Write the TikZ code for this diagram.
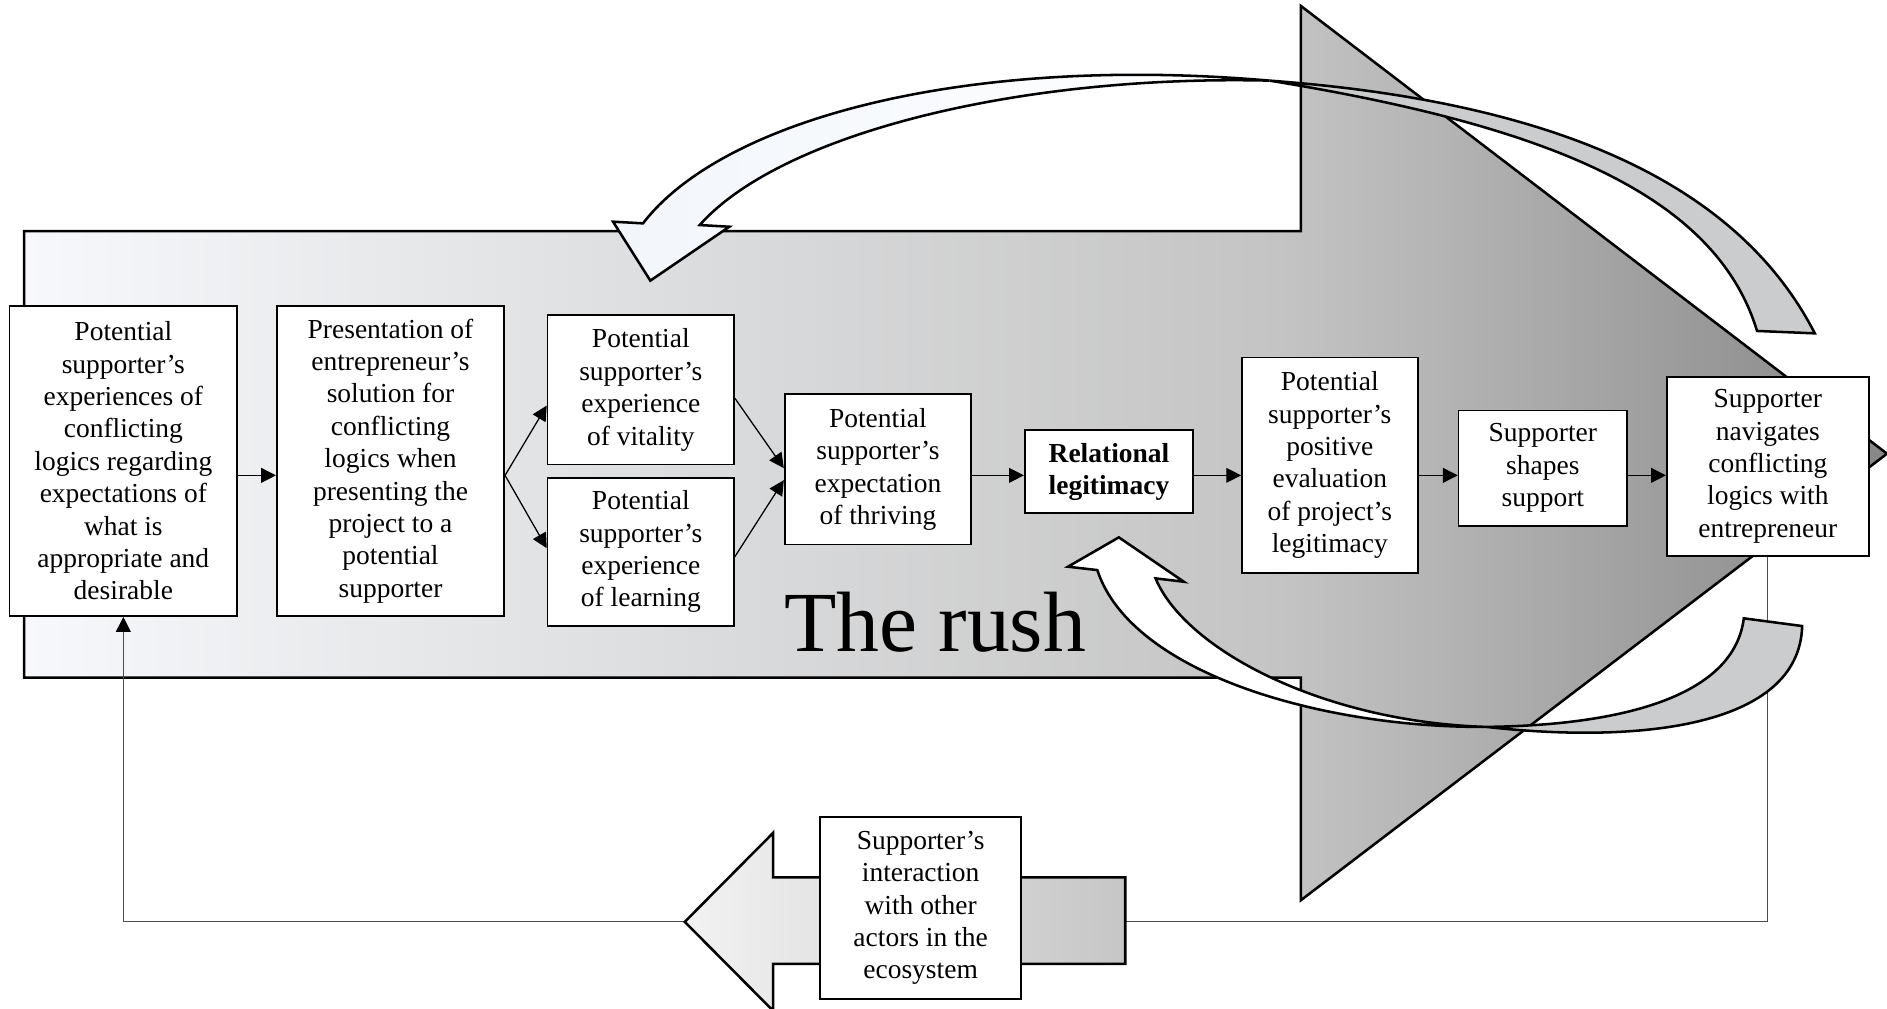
\documentclass[tikz,border=0pt]{standalone}
\usepackage{fontspec}
\setmainfont{Liberation Serif}
\usepackage{xcolor}
\usepackage{tikz}
\usetikzlibrary{arrows.meta}

\definecolor{rushA}{HTML}{F6F8FB}
\definecolor{rushB}{HTML}{C4C4C4}
\definecolor{rushC}{HTML}{878787}
\definecolor{frontA}{HTML}{F2F6FB}
\definecolor{bandgray}{HTML}{CBCCCD}
\definecolor{blockA}{HTML}{F2F2F2}
\definecolor{blockB}{HTML}{C6C6C6}
\pgfdeclarehorizontalshading{rushfade}{100bp}{color(0bp)=(rushA); color(25bp)=(rushA); color(58.7bp)=(rushB); color(75bp)=(rushC); color(100bp)=(rushC)}

\begin{document}
\begin{tikzpicture}[x=0.02cm, y=-0.02cm,
    box/.style={draw, fill=white, line width=0.8pt, align=center, inner sep=0pt, font=\fontsize{13}{15.3}\selectfont},
    flow/.style={-{Triangle[length=7pt,width=7pt]}, line width=0.6pt},
    loopline/.style={-{Triangle[length=7pt,width=7pt,color=black]}, line width=0.5pt, black!70},
    bigshape/.style={draw, line width=1.2pt, line join=miter}]
    \useasboundingbox (0,0) rectangle (1568,838);
    \shadedraw[bigshape, shading=rushfade] (20,192) -- (1081,192) -- (1081,5) -- (1568,377) -- (1081,748) -- (1081,563) -- (20,563) -- cycle;
    \node[anchor=base, font=\fontsize{40.5}{44}\selectfont] (rush) at (777,541.5) {The rush};
    \coordinate (mainline) at (0,395);
    \node[box, minimum width=3.78cm, minimum height=5.16cm] (pconf) at (102.5,383) {Potential\\supporter’s\\experiences of\\conflicting\\logics regarding\\expectations of\\what is\\appropriate and\\desirable};
    \node[box, minimum width=3.78cm, minimum height=5.16cm] (pres) at (324.5,383) {Presentation of\\entrepreneur’s\\solution for\\conflicting\\logics when\\presenting the\\project to a\\potential\\supporter};
    \node[box, minimum width=3.10cm, minimum height=2.48cm] (vital) at (532.5,324) {Potential\\supporter’s\\experience\\of vitality};
    \node[box, minimum width=3.10cm, minimum height=2.46cm] (learn) at (532.5,458.5) {Potential\\supporter’s\\experience\\of learning};
    \node[box, minimum width=3.10cm, minimum height=2.50cm] (thrive) at (729.5,390) {Potential\\supporter’s\\expectation\\of thriving};
    \node[box, minimum width=2.80cm, minimum height=1.38cm, font=\fontsize{13}{15.3}\selectfont\bfseries] (relat) at (921.5,392) {Relational\\legitimacy};
    \node[box, minimum width=2.92cm, minimum height=3.58cm] (evalN) at (1105,386.5) {Potential\\supporter’s\\positive\\evaluation\\of project’s\\legitimacy};
    \node[box, minimum width=2.80cm, minimum height=1.92cm] (shapes) at (1282,389) {Supporter\\shapes\\support};
    \node[box, minimum width=3.36cm, minimum height=2.98cm] (navig) at (1469,387.5) {Supporter\\navigates\\conflicting\\logics with\\entrepreneur};
    \draw[flow] (pconf.east |- mainline) -- (pres.west |- mainline);
    \draw[flow] (pres.east |- mainline) -- ([yshift=-2.6mm]vital.west);
    \draw[flow] (pres.east |- mainline) -- ([yshift=0.6mm]learn.west);
    \draw[flow] ([yshift=-1.4mm]vital.east) -- ([yshift=0.2mm]thrive.west);
    \draw[flow] ([yshift=-0.8mm]learn.east) -- ([yshift=-1.8mm]thrive.west);
    \draw[flow] (thrive.east |- mainline) -- (relat.west |- mainline);
    \draw[flow] (relat.east |- mainline) -- (evalN.west |- mainline);
    \draw[flow] (evalN.east |- mainline) -- (shapes.west |- mainline);
    \draw[flow] (shapes.east |- mainline) -- (navig.west |- mainline);
    \coordinate (loopR) at (1469,766);
    \coordinate (loopL) at (102.5,766);
    \draw[loopline] (navig.south) -- (loopR) -- (loopL) -- (pconf.south);
    \filldraw[bigshape, fill=bandgray] (1055,67) .. controls (1325,87) and (1453,170) .. (1508,277) -- (1460,275) .. controls (1425,160) and (1282,104) .. (1055,67) -- cycle;
    \shadedraw[bigshape, left color=frontA, right color=white] (1055,67) .. controls (800,45) and (600,100) .. (534.3,185.6) -- (509.4,184.2) -- (540.4,233.2) -- (606,188.4) -- (581.4,187) .. controls (650,110) and (850,62) .. (1055,67) -- cycle;
    \filldraw[bigshape, fill=bandgray] (1235,604) .. controls (1360,618) and (1495,605) .. (1497.5,520.2) -- (1449,513.8) .. controls (1440,585) and (1330,603) .. (1235,604) -- cycle;
    \filldraw[bigshape, fill=white] (1235,604) .. controls (1100,605) and (940,560) .. (911.8,473.7) -- (887.4,470.9) -- (929.7,446.5) -- (983.7,483.4) -- (960.2,480.6) .. controls (985,540) and (1100,600) .. (1235,604) -- cycle;
    \shadedraw[bigshape, left color=blockA, right color=blockB] (569,766) -- (642.5,692) -- (642.5,729) -- (935,729) -- (935,801) -- (642.5,801) -- (642.5,840) -- cycle;
    \node[box, minimum width=3.34cm, minimum height=3.02cm] (ecosys) at (765,754.5) {Supporter’s\\interaction\\with other\\actors in the\\ecosystem};
\end{tikzpicture}
\end{document}
